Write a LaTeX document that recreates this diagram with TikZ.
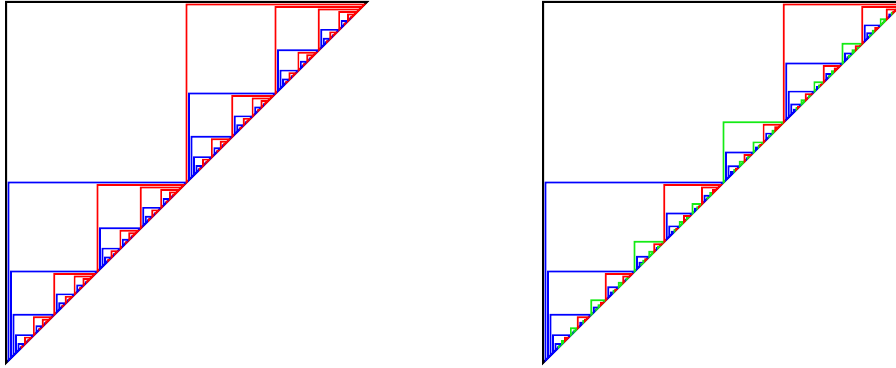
\documentclass[tikz,border=0pt]{standalone}
\usepackage{tikz}
\definecolor{lowblue}{RGB}{0,0,255}
\definecolor{highred}{RGB}{255,0,0}
\definecolor{midgreen}{RGB}{20,235,20}
\tikzset{
  tri/.style={line width=1.7pt, line join=miter},
  outline/.style={line width=2pt, draw=black}
}
\newcommand{\insetstep}{2.5}
\newcommand{\minsize}{0.6}
% one corner triangle, then its two halves
\newcommand{\halftri}[3]{%
  \pgfmathsetmacro\tsize{#2-#1}%
  \ifdim\tsize pt>\minsize pt
    \draw[tri, draw=#3] (#1,#1) -- (#1,#2) -- (#2,#2) -- cycle;
    \halfsplit{#1}{#2}%
  \fi}
\newcommand{\halfsplit}[2]{%
  \begingroup
  \pgfmathsetmacro\tmid{(#1+#2)/2}%
  \pgfmathsetmacro\tleft{#1+\insetstep}%
  \pgfmathsetmacro\ttop{#2-\insetstep}%
  \edef\tnext{\noexpand\halftri{\tleft}{\tmid}{lowblue}%
    \noexpand\halftri{\tmid}{\ttop}{highred}}%
  \expandafter\endgroup\tnext}
% one corner triangle, then its parts 1/2, 1/6, 1/3
\newcommand{\thirdtri}[3]{%
  \pgfmathsetmacro\tsize{#2-#1}%
  \ifdim\tsize pt>\minsize pt
    \draw[tri, draw=#3] (#1,#1) -- (#1,#2) -- (#2,#2) -- cycle;
    \thirdsplit{#1}{#2}%
  \fi}
\newcommand{\thirdsplit}[2]{%
  \begingroup
  \pgfmathsetmacro\tmid{#1+(#2-#1)/2}%
  \pgfmathsetmacro\tsecond{#1+(#2-#1)*2/3}%
  \pgfmathsetmacro\tleft{#1+\insetstep}%
  \pgfmathsetmacro\ttop{#2-\insetstep}%
  \edef\tnext{\noexpand\thirdtri{\tleft}{\tmid}{lowblue}%
    \noexpand\thirdtri{\tmid}{\tsecond}{midgreen}%
    \noexpand\thirdtri{\tsecond}{\ttop}{highred}}%
  \expandafter\endgroup\tnext}

\begin{document}
\begin{tikzpicture}[x=1pt, y=1pt]
  \useasboundingbox (0,0) rectangle (896,367);
  % halves
  \begin{scope}[shift={(6,4)}]
    \draw[outline] (0,0) -- (0,361) -- (361,361) -- cycle;
    \halfsplit{0}{361}
  \end{scope}
  % halves, sixths and thirds
  \begin{scope}[shift={(543,4)}]
    \draw[outline] (0,0) -- (0,361) -- (361,361) -- cycle;
    \thirdsplit{0}{361}
  \end{scope}
\end{tikzpicture}
\end{document}
